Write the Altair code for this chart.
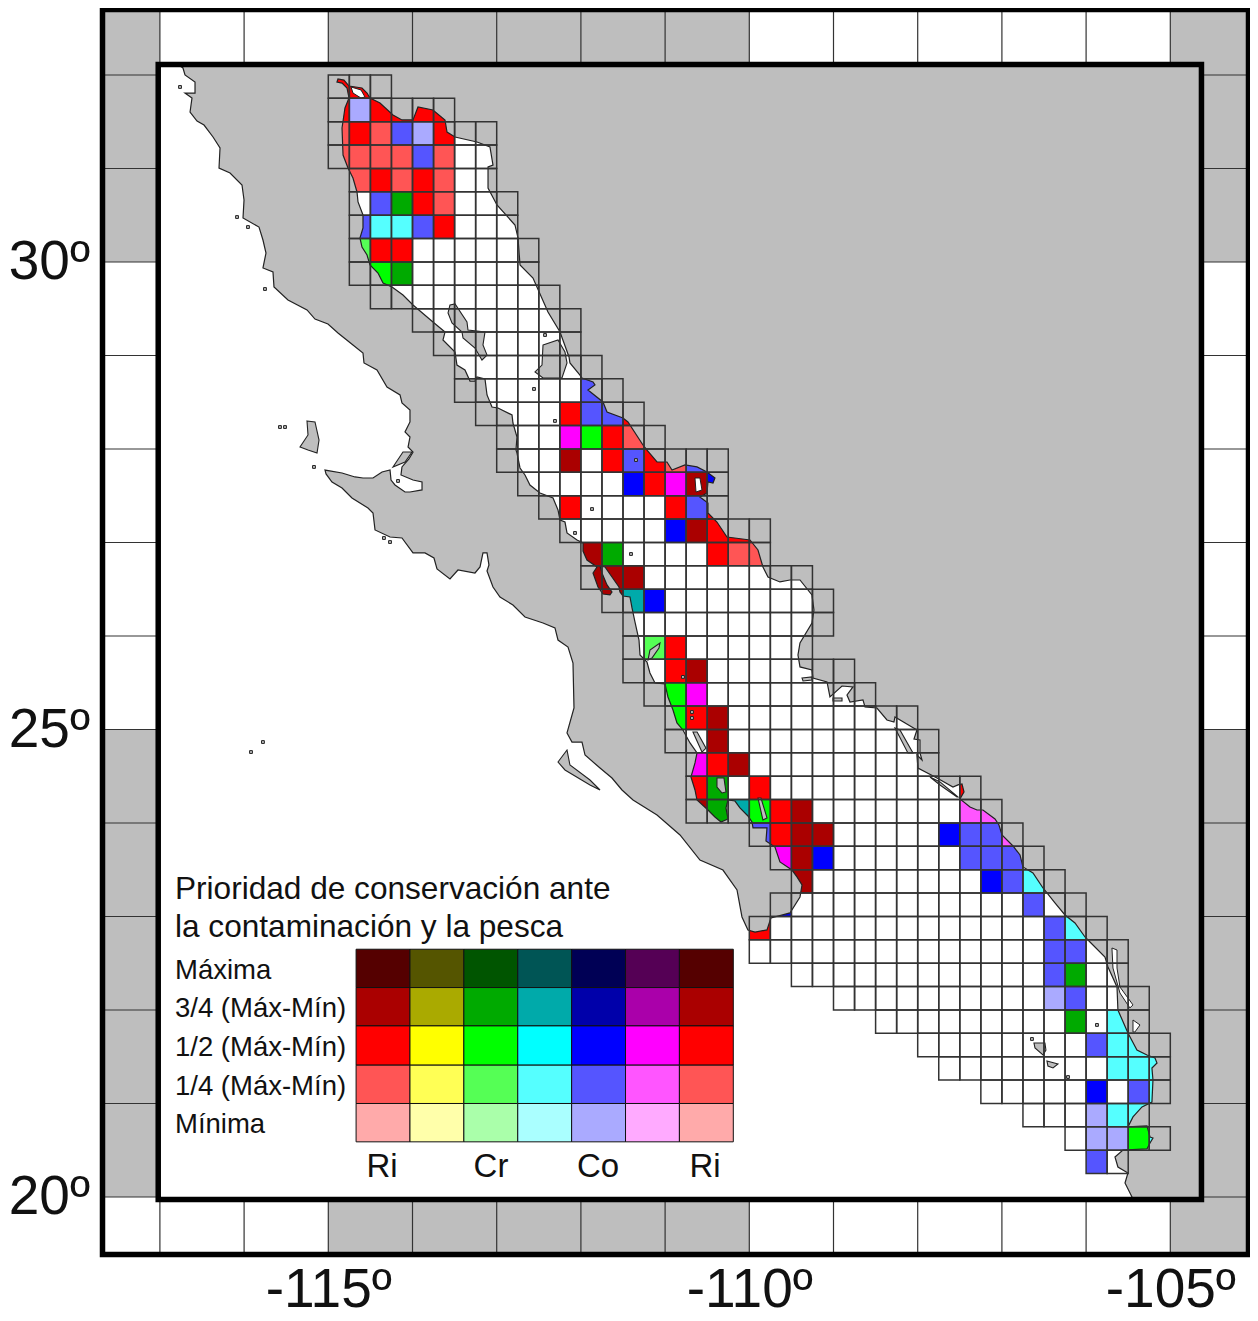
import altair as alt
import pandas as pd

FONT = "Liberation Sans"
GRAY = "#BEBEBE"
LINE = "#333333"

# Map domain (degrees)
W, E, S, N = -117.6817, -104.0713, 19.385, 32.7005
IN_W, IN_E, IN_S, IN_N = -117.02, -104.63, 19.973, 32.112

# Gulf of California grid: row index -> first and last column (0.25 degree cells)
grid_rows = {
    8: (0, 2), 7: (0, 5), 6: (0, 7), 5: (0, 7), 4: (1, 7), 3: (1, 8), 2: (1, 8), 1: (1, 9), 0: (1, 9),
    -1: (2, 10), -2: (4, 11), -3: (5, 11), -4: (6, 12), -5: (6, 13), -6: (7, 14), -7: (8, 15),
    -8: (8, 18), -9: (9, 18), -10: (10, 18), -11: (11, 20), -12: (12, 20), -13: (12, 22),
    -14: (13, 23), -15: (14, 23), -16: (14, 22), -17: (14, 24), -18: (15, 25), -19: (16, 27),
    -20: (16, 28), -21: (17, 28), -22: (17, 30), -23: (17, 31), -24: (20, 32), -25: (21, 33),
    -26: (22, 34), -27: (21, 35), -28: (20, 36), -29: (20, 37), -30: (22, 37), -31: (24, 38),
    -32: (26, 38), -33: (28, 39), -34: (29, 39), -35: (31, 39), -36: (33, 38), -37: (35, 39),
    -38: (36, 37),
}

R3, R2, R1 = "#AA0000", "#FF0000", "#FF5555"
G3, G2, G1 = "#00AA00", "#00FF00", "#55FF55"
C3, C1 = "#00AAAA", "#55FFFF"
B2, B1, B0 = "#0000FF", "#5555FF", "#AAAAFF"
M2, M1 = "#FF00FF", "#FF55FF"

# Coloured cells: row index -> (column, colour)
colored_cells = {
    8: [(0, R2), (1, R2)],
    7: [(0, R2), (1, B0), (2, R2), (3, R2), (4, R2), (5, R2)],
    6: [(0, R1), (1, R2), (2, R1), (3, B1), (4, B0), (5, R2)],
    5: [(0, R1), (1, R1), (2, R1), (3, R1), (4, B1), (5, R1)],
    4: [(1, R1), (2, R2), (3, R1), (4, R2), (5, R1)],
    3: [(2, B1), (3, G3), (4, R2), (5, R1)],
    2: [(1, B1), (2, C1), (3, C1), (4, B1), (5, R2)],
    1: [(1, G1), (2, R2), (3, R2)],
    0: [(1, G2), (2, G2), (3, G3)],
    -1: [(2, C3)],
    -4: [(12, R2)],
    -5: [(12, B1)],
    -6: [(11, R2), (12, B1), (13, B1), (14, R2)],
    -7: [(11, M2), (12, G2), (13, R2), (14, R1)],
    -8: [(11, R3), (13, R2), (14, B1), (15, R2), (16, R1), (17, B1)],
    -9: [(14, B2), (15, R2), (16, M2), (17, R3), (18, B2)],
    -10: [(11, R2), (16, R2), (17, B1), (18, R2)],
    -11: [(16, B2), (17, R3), (18, R2), (19, R2), (20, R2)],
    -12: [(12, R3), (13, G3), (18, R2), (19, R1), (20, R1)],
    -13: [(12, R3), (13, R3), (14, R3)],
    -14: [(13, R3), (14, C3), (15, B2)],
    -16: [(15, G1), (16, R2)],
    -17: [(16, R2), (17, R3)],
    -18: [(15, R3), (16, G2), (17, M2)],
    -19: [(16, G2), (17, R2), (18, R3)],
    -20: [(18, R3)],
    -21: [(17, M2), (18, R2), (19, R3)],
    -22: [(17, R2), (18, G3), (20, R2), (30, R2)],
    -23: [(17, R3), (18, G3), (19, C3), (20, G2), (21, R2), (22, R3), (30, M1), (31, M1)],
    -24: [(20, B1), (21, R2), (22, R3), (23, R3), (29, B2), (30, B1), (31, B1), (32, M1)],
    -25: [(21, M2), (22, R3), (23, B2), (30, B1), (31, B1), (32, B1)],
    -26: [(22, R3), (31, B2), (32, B1), (33, C1)],
    -27: [(21, B2), (33, B1)],
    -28: [(20, R2), (34, B1), (35, C1)],
    -29: [(34, B1), (35, B1)],
    -30: [(34, B1), (35, G3)],
    -31: [(34, B0), (35, B1)],
    -32: [(35, G3), (37, C1)],
    -33: [(36, B1), (37, C1), (38, C1)],
    -34: [(37, C1), (38, C1), (39, C1)],
    -35: [(36, B2), (38, B1), (39, C1)],
    -36: [(36, B0), (37, C1), (38, C1)],
    -37: [(36, B0), (37, B0), (38, G2), (39, C1)],
    -38: [(36, B1)],
}

# Coast: Pacific side, southern tip, Gulf side of the peninsula, delta, mainland coast
land = [
    (-116.785,32.112),(-116.726,32.075),(-116.702,32.0),(-116.583,31.925),(-116.583,31.807),(-116.702,31.807),
    (-116.619,31.754),(-116.642,31.604),(-116.559,31.508),(-116.476,31.465),(-116.369,31.337),(-116.286,31.219),
    (-116.298,31.005),(-116.167,30.952),(-116.025,30.824),(-116.001,30.663),(-116.013,30.471),(-115.823,30.374),
    (-115.776,30.235),(-115.74,30.096),(-115.776,29.936),(-115.657,29.893),(-115.645,29.733),(-115.479,29.594),
    (-115.253,29.487),(-115.158,29.39),(-115.004,29.337),(-114.885,29.241),(-114.707,29.112),(-114.588,29.027),
    (-114.576,28.92),(-114.422,28.845),(-114.303,28.663),(-114.148,28.578),(-114.125,28.492),(-114.03,28.417),
    (-114.03,28.289),(-114.089,28.182),(-114.03,28.128),(-114.053,28.021),(-113.994,27.968),(-114.042,27.893),
    (-114.125,27.808),(-114.137,27.722),(-113.994,27.668),(-113.887,27.647),(-113.887,27.562),(-114.03,27.54),
    (-114.089,27.54),(-114.208,27.615),(-114.255,27.668),(-114.267,27.775),(-114.362,27.754),(-114.469,27.69),
    (-114.588,27.69),(-114.683,27.701),(-114.837,27.743),(-115.039,27.775),(-115.027,27.733),(-114.956,27.647),
    (-114.837,27.583),(-114.719,27.476),(-114.529,27.369),(-114.469,27.316),(-114.445,27.134),(-114.267,27.059),
    (-114.125,27.048),(-113.994,26.888),(-113.852,26.888),(-113.745,26.834),(-113.709,26.717),(-113.555,26.61),
    (-113.46,26.706),(-113.258,26.674),(-113.198,26.738),(-113.163,26.888),(-113.115,26.888),(-113.092,26.759),
    (-113.115,26.695),(-113.044,26.524),(-112.961,26.417),(-112.807,26.332),(-112.664,26.203),(-112.45,26.139),
    (-112.308,26.086),(-112.272,25.957),(-112.153,25.882),(-112.094,25.711),(-112.082,25.23),(-112.165,24.963),
    (-112.106,24.866),(-111.987,24.866),(-111.951,24.727),(-111.773,24.588),(-111.631,24.481),(-111.512,24.353),
    (-111.381,24.246),(-111.096,24.086),(-110.823,23.872),(-110.586,23.604),(-110.313,23.497),(-110.146,23.284),
    (-110.087,22.995),(-110.016,22.856),(-109.932,22.834),(-109.79,22.856),(-109.743,22.984),(-109.517,23.038),
    (-109.398,23.209),(-109.374,23.337),(-109.434,23.423),(-109.493,23.497),(-109.636,23.583),(-109.695,23.743),
    (-109.802,23.808),(-109.79,23.947),(-109.956,23.947),(-109.968,24.011),(-110.016,24.075),(-110.111,24.161),
    (-110.17,24.235),(-110.253,24.246),(-110.277,24.161),(-110.253,24.043),(-110.336,24.011),(-110.408,24.064),
    (-110.491,24.139),(-110.621,24.246),(-110.645,24.353),(-110.693,24.492),(-110.645,24.642),(-110.621,24.749),
    (-110.704,24.856),(-110.788,24.995),(-110.859,25.07),(-110.906,25.209),(-110.966,25.348),(-111.001,25.487),
    (-111.12,25.497),(-111.18,25.604),(-111.215,25.722),(-111.298,25.797),(-111.31,25.957),(-111.358,26.15),
    (-111.393,26.3),(-111.417,26.417),(-111.5,26.428),(-111.536,26.471),(-111.548,26.524),(-111.631,26.631),
    (-111.714,26.738),(-111.773,26.749),(-111.75,26.674),(-111.69,26.546),(-111.631,26.471),(-111.655,26.439),
    (-111.738,26.449),(-111.797,26.524),(-111.856,26.674),(-111.809,26.738),(-111.928,26.813),(-111.975,26.909),
    (-111.975,26.995),(-112.046,27.027),(-112.165,27.102),(-112.189,27.219),(-112.248,27.241),(-112.272,27.348),
    (-112.331,27.476),(-112.486,27.529),(-112.605,27.615),(-112.664,27.722),(-112.723,27.797),(-112.759,27.957),
    (-112.771,27.989),(-112.759,28.128),(-112.807,28.278),(-112.818,28.364),(-112.985,28.439),(-113.056,28.449),
    (-113.115,28.578),(-113.139,28.749),(-113.234,28.77),(-113.258,28.727),(-113.317,28.727),(-113.377,28.845),
    (-113.472,28.898),(-113.495,29.037),(-113.638,29.166),(-113.614,29.251),(-113.757,29.358),(-113.994,29.54),
    (-114.113,29.647),(-114.243,29.733),(-114.35,29.775),(-114.41,29.882),(-114.505,29.968),(-114.54,30.075),
    (-114.6,30.16),(-114.624,30.257),(-114.588,30.364),(-114.588,30.503),(-114.647,30.642),(-114.659,30.749),
    (-114.707,30.898),(-114.766,31.005),(-114.825,31.144),(-114.837,31.433),(-114.802,31.647),(-114.754,31.754),
    (-114.778,31.861),(-114.837,31.914),(-114.897,31.925),(-114.885,31.957),(-114.814,31.946),(-114.754,31.882),
    (-114.6,31.861),(-114.54,31.807),(-114.505,31.754),(-114.386,31.7),(-114.232,31.572),(-114.125,31.519),
    (-113.994,31.519),(-113.935,31.658),(-113.757,31.626),(-113.614,31.519),(-113.59,31.39),(-113.495,31.337),
    (-113.234,31.283),(-113.08,31.23),(-113.044,31.037),(-113.103,31.016),(-113.103,30.791),(-112.997,30.61),
    (-112.783,30.396),(-112.747,30.257),(-112.723,29.968),(-112.569,29.829),(-112.391,29.465),(-112.248,29.251),
    (-112.201,29.134),(-112.141,28.984),(-112.13,28.92),(-112.011,28.791),(-111.987,28.759),(-111.856,28.717),
    (-111.833,28.685),(-111.916,28.631),(-111.738,28.503),(-111.69,28.396),(-111.5,28.332),(-111.441,28.289),
    (-111.263,28.043),(-111.215,27.989),(-111.096,27.861),(-110.978,27.861),(-110.918,27.775),(-110.764,27.829),
    (-110.621,27.808),(-110.503,27.754),(-110.408,27.69),(-110.431,27.636),(-110.491,27.647),(-110.503,27.529),
    (-110.586,27.487),(-110.491,27.423),(-110.491,27.316),(-110.384,27.219),(-110.265,27.059),(-109.992,27.027),
    (-109.897,26.92),(-109.838,26.738),(-109.778,26.631),(-109.636,26.578),(-109.517,26.599),(-109.398,26.599),
    (-109.256,26.439),(-109.232,26.278),(-109.256,26.139),(-109.398,25.925),(-109.422,25.797),(-109.398,25.669),
    (-109.256,25.636),(-109.244,25.551),(-109.077,25.508),(-109.042,25.348),(-108.899,25.465),(-108.769,25.455),
    (-108.84,25.369),(-108.804,25.294),(-108.65,25.316),(-108.626,25.241),(-108.484,25.23),(-108.365,25.102),
    (-108.282,25.08),(-108.27,25.134),(-108.009,24.995),(-108.044,24.898),(-107.973,24.888),(-107.973,24.749),
    (-107.949,24.674),(-108.009,24.727),(-107.997,24.588),(-107.771,24.481),(-107.581,24.385),(-107.522,24.407),
    (-107.474,24.417),(-107.45,24.332),(-107.498,24.257),(-107.379,24.171),(-107.296,24.139),(-107.225,24.139),
    (-107.082,24.043),(-107.035,23.979),(-106.999,23.872),(-106.868,23.754),(-106.785,23.658),(-106.75,23.53),
    (-106.631,23.465),(-106.512,23.305),(-106.37,23.145),(-106.251,23.016),(-106.132,22.931),(-106.013,22.781),
    (-105.954,22.727),(-105.776,22.567),(-105.74,22.46),(-105.633,22.246),(-105.622,22.0),(-105.503,21.754),
    (-105.396,21.572),(-105.277,21.519),(-105.182,21.487),(-105.158,21.433),(-105.218,21.38),(-105.206,21.251),
    (-105.218,21.016),(-105.336,20.963),(-105.443,20.856),(-105.503,20.749),(-105.277,20.76),(-105.241,20.642),
    (-105.206,20.631),(-105.241,20.578),(-105.277,20.514),(-105.562,20.503),(-105.657,20.428),(-105.622,20.321),
    (-105.503,20.257),(-105.538,20.15),(-105.455,20.0),(-105.44,19.973),(-104.63,19.973),(-104.63,32.112),
]

islands = [
    [(-115.253,28.3),(-115.158,28.289),(-115.11,28.096),(-115.134,27.957),(-115.241,27.989),(-115.336,28.021),(-115.241,28.15)],
    [(-113.555,29.54),(-113.495,29.551),(-113.353,29.358),(-113.341,29.273),(-113.139,29.251),(-113.163,29.112),(-113.115,29.005),
     (-113.175,28.952),(-113.258,29.08),(-113.4,29.187),(-113.412,29.251),(-113.531,29.348),(-113.578,29.455)],
    [(-112.45,29.112),(-112.272,29.166),(-112.189,29.037),(-112.165,28.92),(-112.225,28.759),(-112.45,28.759),(-112.545,28.824),(-112.462,28.898)],
    [(-110.669,24.973),(-110.62,24.973),(-110.514,24.8),(-110.562,24.759)],
    [(-111.203,25.743),(-111.18,25.85),(-111.061,25.925),(-111.073,25.872),(-111.156,25.765)],
    [(-110.384,24.481),(-110.301,24.481),(-110.277,24.332),(-110.324,24.321),(-110.384,24.385)],
    [(-109.897,24.267),(-109.861,24.267),(-109.79,24.054),(-109.838,24.032)],
    [(-106.619,21.647),(-106.489,21.647),(-106.477,21.572),(-106.512,21.519),(-106.607,21.594)],
    [(-106.465,21.455),(-106.334,21.423),(-106.393,21.38),(-106.453,21.401)],
    [(-112.272,24.652),(-112.165,24.781),(-112.13,24.62),(-111.892,24.46),(-111.773,24.353),(-111.892,24.407),(-112.189,24.567)],
    [(-114.232,27.808),(-114.113,27.968),(-114.006,27.968),(-114.089,27.861)],
    [(-108.27,25.016),(-108.211,24.995),(-108.056,24.749),(-108.116,24.749)],
    [(-109.374,25.551),(-109.256,25.562),(-109.256,25.53),(-109.362,25.519)],
    [(-109.006,25.337),(-108.899,25.337),(-108.899,25.305),(-109.006,25.305)],
    [(-107.854,24.492),(-107.735,24.439),(-107.522,24.278),(-107.534,24.278),(-107.735,24.407)],
]

lagoons = [
    [(-105.693,22.663),(-105.633,22.642),(-105.633,22.449),(-105.598,22.246),(-105.443,22.054),(-105.48,22.022),(-105.598,22.182),(-105.681,22.449)],
    [(-105.443,21.893),(-105.36,21.84),(-105.42,21.765),(-105.443,21.765)],
    [(-110.645,27.69),(-110.586,27.69),(-110.562,27.562),(-110.633,27.54)],
    [(-114.73,31.872),(-114.612,31.84),(-114.564,31.765),(-114.612,31.754),(-114.707,31.807)],
]

islets_lon = [-115.574,-115.514,-115.752,-115.17,-115.776,-115.918,-116.761,-116.084,-115.954,-111.868,-111.405,-111.346,
              -112.557,-114.267,-114.339,-105.871,-106.643,-106.215,-114.172,-110.681,-110.681,-112.308,-110.788,-112.426,-112.07]
islets_lat = [28.235,28.235,29.711,27.808,24.866,24.759,31.872,30.481,30.374,27.358,26.877,27.882,
              28.642,27.005,27.048,21.84,21.69,21.283,27.658,25.187,25.123,28.3,25.562,29.219,27.102]

# Frame
band_w = [W, -115, -105, W, -105, -115, -105]
band_e = [-117, -110, E, -117, E, -110, E]
band_s = [30, 30, 30, 20, 20, S, S]
band_n = [N, N, N, 25, 25, 20, 20]
tick_lons = [-117, -116, -115, -114, -113, -112, -111, -110, -109, -108, -107, -106, -105]
tick_lats = [20, 21, 22, 23, 24, 25, 26, 27, 28, 29, 30, 31, 32]

# Legend
legend_colors = [
    ["#550000", "#555500", "#005500", "#005555", "#000055", "#550055", "#550000"],
    ["#AA0000", "#AAAA00", "#00AA00", "#00AAAA", "#0000AA", "#AA00AA", "#AA0000"],
    ["#FF0000", "#FFFF00", "#00FF00", "#00FFFF", "#0000FF", "#FF00FF", "#FF0000"],
    ["#FF5555", "#FFFF55", "#55FF55", "#55FFFF", "#5555FF", "#FF55FF", "#FF5555"],
    ["#FFAAAA", "#FFFFAA", "#AAFFAA", "#AAFFFF", "#AAAAFF", "#FFAAFF", "#FFAAAA"],
]
legend_lon = [-114.67, -114.03, -113.39, -112.75, -112.11, -111.47, -110.83, -110.19]
legend_lat = [22.65, 22.24, 21.83, 21.41, 21.00, 20.59]
title_lines = ["Prioridad de conservación ante", "la contaminación y la pesca"]
title_lat = [23.283, 22.877]
row_labels = ["Máxima", "3/4 (Máx-Mín)", "1/2 (Máx-Mín)", "1/4 (Máx-Mín)", "Mínima"]
row_lat = [22.415, 22.008, 21.591, 21.174, 20.768]
col_labels = ["Ri", "Cr", "Co", "Ri"]
col_lon = [-114.362, -113.068, -111.797, -110.526]
TEXT_LON = -116.821
COL_LAT = 20.325

xs = alt.Scale(domain=[W, E], nice=False, zero=False)
ys = alt.Scale(domain=[S, N], nice=False, zero=False)
x_axis = alt.Axis(
    values=[-115, -110, -105], labelExpr="datum.value + 'º'", title=None, grid=False, domain=False, ticks=False,
    labelFont=FONT, labelFontSize=55, labelColor="#111111", labelPadding=9, labelFlush=False, labelOverlap=False)
y_axis = alt.Axis(
    values=[20, 25, 30], labelExpr="datum.value + 'º'", title=None, grid=False, domain=False, ticks=False,
    labelFont=FONT, labelFontSize=55, labelColor="#111111", labelPadding=13, labelOverlap=False)
LAT_STRETCH = 93.5 / 84.2


def X(field):
    return alt.X(field, scale=xs, axis=x_axis)


def Y(field):
    return alt.Y(field, scale=ys, axis=y_axis)


def feature(ring):
    coords = [[lon, lat * LAT_STRETCH] for lon, lat in ring]
    coords.append(coords[0])
    return {"type": "Feature", "properties": {},
            "geometry": {"type": "Polygon", "coordinates": [coords]}}


def geo(rings, fill, stroke, sw):
    return alt.Chart(alt.Data(values=[feature(r) for r in rings])).mark_geoshape(
        fill=fill, stroke=stroke, strokeWidth=sw
    ).project(type="identity", scale=84.2, translate=[9908.8, 3057.5], reflectY=True)


def rect_chart(df, mark):
    return alt.Chart(df).mark_rect(**mark).encode(x=X("w:Q"), x2="e:Q", y=Y("s:Q"), y2="n:Q")


def cell(col, row):
    return {"w": -115 + 0.25 * col, "e": -115 + 0.25 * (col + 1), "n": 30 + 0.25 * row, "s": 30 + 0.25 * (row - 1)}


grid = pd.DataFrame([cell(c, r) for r, (a, b) in grid_rows.items() for c in range(a, b + 1)])
colored = pd.DataFrame([{**cell(c, r), "color": col} for r, lst in colored_cells.items() for c, col in lst])
bands = pd.DataFrame({"w": band_w, "e": band_e, "s": band_s, "n": band_n})
legend = pd.DataFrame([
    {"w": legend_lon[j], "e": legend_lon[j + 1], "n": legend_lat[i], "s": legend_lat[i + 1], "color": c}
    for i, row in enumerate(legend_colors) for j, c in enumerate(row)
])

base = rect_chart(bands, {"fill": GRAY})

inner_df = pd.DataFrame({"w": [IN_W], "e": [IN_E], "s": [IN_S], "n": [IN_N]})
outer_df = pd.DataFrame({"w": [W], "e": [E], "s": [S], "n": [N]})

inner_fill = rect_chart(inner_df, {"fill": "white"})
cells_fill = alt.Chart(colored).mark_rect().encode(
    x=X("w:Q"), x2="e:Q", y=Y("s:Q"), y2="n:Q", color=alt.Color("color:N", scale=None),
)
land_layer = geo([land], GRAY, "#222222", 1.2)
island_layer = geo(islands, GRAY, "#222222", 1.1)
lagoon_layer = geo(lagoons, "white", "#222222", 1.0)
islet_layer = alt.Chart(pd.DataFrame({"lon": islets_lon, "lat": islets_lat})).mark_square(
    size=8, fill=GRAY, stroke="#222222", strokeWidth=1, opacity=1
).encode(x=X("lon:Q"), y=Y("lat:Q"))
grid_layer = rect_chart(grid, {"filled": False, "stroke": LINE, "strokeWidth": 1.5})

# Thin lines across the frame band
v_df = pd.DataFrame(
    [{"lon": v, "a": N, "b": IN_N} for v in tick_lons] + [{"lon": v, "a": IN_S, "b": S} for v in tick_lons])
h_df = pd.DataFrame(
    [{"lat": v, "a": W, "b": IN_W} for v in tick_lats] + [{"lat": v, "a": IN_E, "b": E} for v in tick_lats])
v_rules = alt.Chart(v_df).mark_rule(color=LINE, strokeWidth=1.2).encode(x=X("lon:Q"), y=Y("a:Q"), y2="b:Q")
h_rules = alt.Chart(h_df).mark_rule(color=LINE, strokeWidth=1.2).encode(y=Y("lat:Q"), x=X("a:Q"), x2="b:Q")

legend_layer = alt.Chart(legend).mark_rect(stroke="#111111", strokeWidth=1).encode(
    x=X("w:Q"), x2="e:Q", y=Y("s:Q"), y2="n:Q", color=alt.Color("color:N", scale=None),
)


def text_layer(labels, lons, lats, size, align):
    df = pd.DataFrame({"t": labels, "lon": lons, "lat": lats})
    return alt.Chart(df).mark_text(font=FONT, fontSize=size, align=align, baseline="middle", color="#111111").encode(
        x=X("lon:Q"), y=Y("lat:Q"), text="t:N")


title_layer = text_layer(title_lines, [TEXT_LON] * 2, title_lat, 31.6, "left")
rows_layer = text_layer(row_labels, [TEXT_LON] * 5, row_lat, 27.5, "left")
cols_layer = text_layer(col_labels, col_lon, [COL_LAT] * 4, 33, "center")

inner_frame = rect_chart(inner_df, {"filled": False, "stroke": "black", "strokeWidth": 5.5})
outer_frame = rect_chart(outer_df, {"filled": False, "stroke": "black", "strokeWidth": 5.5})

chart = alt.layer(
    base, inner_fill, cells_fill, land_layer, island_layer, lagoon_layer, islet_layer, grid_layer,
    v_rules, h_rules, legend_layer, title_layer, rows_layer, cols_layer, inner_frame, outer_frame,
).properties(
    width=1146, height=1245, background="white",
    autosize=alt.AutoSizeParams(type="none"),
    padding={"left": 94.5, "top": 1.5, "right": 1.5, "bottom": 58},
).configure_view(strokeWidth=0)

chart.save("out.html", embed_options={"renderer": "svg", "actions": False})
